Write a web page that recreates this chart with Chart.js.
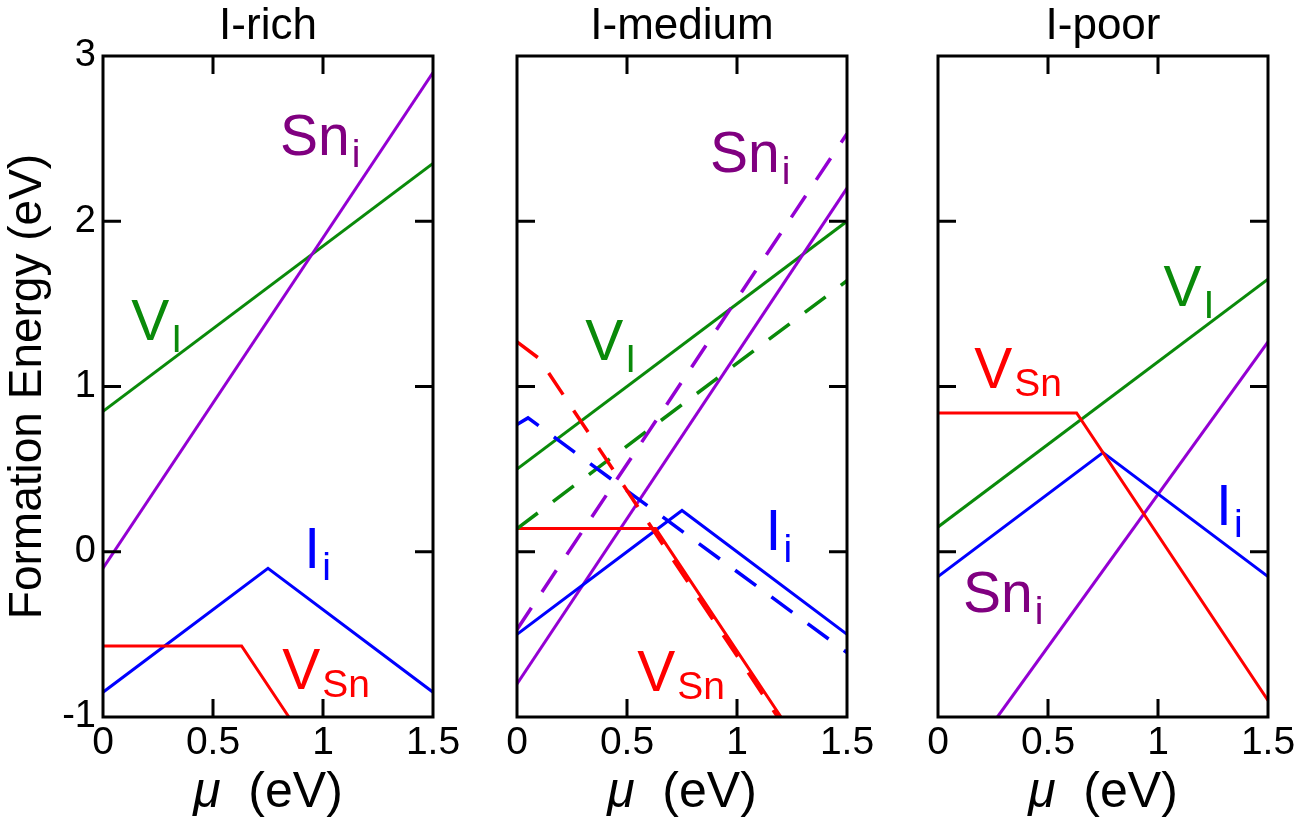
<!DOCTYPE html>
<html><head><meta charset="utf-8">
<script src="https://cdn.jsdelivr.net/npm/chart.js@4.4.1/dist/chart.umd.min.js"></script>
<style>
html,body{margin:0;padding:0;background:#fff;}
#wrap{position:relative;width:1311px;height:820px;overflow:hidden;background:#fff;}
canvas{position:absolute;top:0;}
</style></head><body>
<div id="wrap">
<canvas id="c1" width="480" height="820" style="left:0px"></canvas>
<canvas id="c2" width="410" height="820" style="left:480px"></canvas>
<canvas id="c3" width="421" height="820" style="left:890px"></canvas>
</div>
<script>
const FONT = '"Liberation Sans", Arial, Helvetica, sans-serif';

// ---- data ----
const panelTitles = ['I-rich', 'I-medium', 'I-poor'];
const xTickValues = [0, 0.5, 1, 1.5];
const xTickLabels = ['0', '0.5', '1', '1.5'];
const yTickValues = [-1, 0, 1, 2, 3];
const yTickLabels = ['-1', '0', '1', '2', '3'];
const xTitleSymbol = 'μ';
const xTitleUnit = '  (eV)';
const yTitle = 'Formation Energy (eV)';

// I-rich
const richVI  = [[0, 0.85], [1.5, 2.35]];
const richSni = [[0, -0.1], [1.5, 2.9]];
const richIi  = [[0, -0.85], [0.75, -0.1], [1.5, -0.85]];
const richVSn = [[0, -0.57], [0.63, -0.57], [0.845, -1.0]];
// I-medium (solid)
const medVI  = [[0, 0.5], [1.5, 2.0]];
const medSni = [[0, -0.8], [1.5, 2.2]];
const medIi  = [[0, -0.5], [0.75, 0.25], [1.5, -0.5]];
const medVSn = [[0, 0.14], [0.63, 0.14], [1.2, -1.0]];
// I-medium (dashed)
const medVIdash  = [[0, 0.14], [1.5, 1.64]];
const medSnidash = [[0, -0.47], [1.5, 2.53]];
const medIidash  = [[0, 0.77], [0.05, 0.81], [1.5, -0.61]];
const medVSndash = [[0, 1.27], [0.1, 1.17], [1.185, -1.0]];
// I-poor
const poorVI  = [[0, 0.15], [1.5, 1.65]];
const poorSni = [[0.27, -1.0], [1.5, 1.27]];
const poorIi  = [[0, -0.15], [0.75, 0.6], [1.5, -0.15]];
const poorVSn = [[0, 0.84], [0.63, 0.84], [1.5, -0.9]];

// ---- styles ----
const GREEN = '#0a8a0a', PURPLE = '#9400d3', PURPLE_TXT = '#800080', RED = '#ff0000', BLUE = '#0000ff';
const DASH = [26, 19];

const panelDefs = [
  { id: 'c1', title: panelTitles[0], yAxis: true, pad: { left: 0, right: 47 },
    series: [
      { d: richVSn, c: RED }, { d: richIi, c: BLUE }, { d: richSni, c: PURPLE }, { d: richVI, c: GREEN }
    ],
    labels: [
      { t: 'Sn', s: 'i', x: 0.805, y: 2.40, c: PURPLE_TXT, so: 12 },
      { t: 'V', s: 'I', x: 0.128, y: 1.28, c: GREEN, so: 12 },
      { t: 'I', s: 'i', x: 0.915, y: -0.10, c: BLUE, so: 12 },
      { t: 'V', s: 'Sn', x: 0.815, y: -0.83, c: RED, so: 8 }
    ] },
  { id: 'c2', title: panelTitles[1], yAxis: false, pad: { left: 37, right: 43 },
    series: [
      { d: medVSndash, c: RED, dash: true }, { d: medIidash, c: BLUE, dash: true },
      { d: medSnidash, c: PURPLE, dash: true }, { d: medVIdash, c: GREEN, dash: true },
      { d: medVSn, c: RED }, { d: medIi, c: BLUE }, { d: medSni, c: PURPLE }, { d: medVI, c: GREEN }
    ],
    labels: [
      { t: 'Sn', s: 'i', x: 0.877, y: 2.30, c: PURPLE_TXT, so: 12 },
      { t: 'V', s: 'I', x: 0.31, y: 1.16, c: GREEN, so: 12 },
      { t: 'I', s: 'i', x: 1.13, y: 0.01, c: BLUE, so: 12 },
      { t: 'V', s: 'Sn', x: 0.547, y: -0.84, c: RED, so: 8 }
    ] },
  { id: 'c3', title: panelTitles[2], yAxis: false, pad: { left: 48, right: 43 },
    series: [
      { d: poorVSn, c: RED }, { d: poorIi, c: BLUE }, { d: poorSni, c: PURPLE }, { d: poorVI, c: GREEN }
    ],
    labels: [
      { t: 'V', s: 'I', x: 1.025, y: 1.49, c: GREEN, so: 12 },
      { t: 'V', s: 'Sn', x: 0.165, y: 0.99, c: RED, so: 8 },
      { t: 'I', s: 'i', x: 1.264, y: 0.16, c: BLUE, so: 12 },
      { t: 'Sn', s: 'i', x: 0.114, y: -0.365, c: PURPLE_TXT, so: 12 }
    ] }
];

const decor = {
  id: 'decor',
  afterDatasetsDraw(chart, args, opts) {
    const { ctx, chartArea: a, scales: { x, y } } = chart;
    ctx.save();
    // curve labels
    for (const L of opts.labels) {
      const px = x.getPixelForValue(L.x), py = y.getPixelForValue(L.y);
      ctx.fillStyle = L.c;
      ctx.textAlign = 'left';
      ctx.textBaseline = 'alphabetic';
      ctx.font = '57px ' + FONT;
      ctx.fillText(L.t, px, py);
      const w = ctx.measureText(L.t).width;
      ctx.font = '39px ' + FONT;
      ctx.fillText(L.s, px + w + 2, py + L.so);
    }
    // frame
    ctx.strokeStyle = '#000';
    ctx.lineWidth = 3;
    ctx.strokeRect(a.left, a.top, a.right - a.left, a.bottom - a.top);
    // inward ticks
    ctx.beginPath();
    for (const v of xTickValues) {
      if (v <= x.min || v >= x.max) continue;
      const p = x.getPixelForValue(v);
      ctx.moveTo(p, a.bottom); ctx.lineTo(p, a.bottom - 18);
      ctx.moveTo(p, a.top); ctx.lineTo(p, a.top + 18);
    }
    for (const v of yTickValues) {
      if (v <= y.min || v >= y.max) continue;
      const p = y.getPixelForValue(v);
      ctx.moveTo(a.left, p); ctx.lineTo(a.left + 18, p);
      ctx.moveTo(a.right, p); ctx.lineTo(a.right - 18, p);
    }
    ctx.stroke();
    // panel title
    ctx.fillStyle = '#000';
    ctx.font = '44px ' + FONT;
    ctx.textAlign = 'center';
    ctx.textBaseline = 'middle';
    ctx.fillText(opts.title, (a.left + a.right) / 2, 27);
    // x axis title: italic mu + upright unit
    ctx.textAlign = 'left';
    ctx.textBaseline = 'alphabetic';
    ctx.font = 'italic 50px ' + FONT;
    const w1 = ctx.measureText(xTitleSymbol).width;
    ctx.font = '50px ' + FONT;
    const w2 = ctx.measureText(xTitleUnit).width;
    const sx = (a.left + a.right) / 2 - (w1 + w2) / 2;
    ctx.font = 'italic 50px ' + FONT;
    ctx.fillText(xTitleSymbol, sx, 807);
    ctx.font = '50px ' + FONT;
    ctx.fillText(xTitleUnit, sx + w1, 807);
    ctx.restore();
  }
};

for (const P of panelDefs) {
  const datasets = P.series.map(s => ({
    data: s.d.map(p => ({ x: p[0], y: p[1] })),
    borderColor: s.c,
    borderWidth: s.dash ? 3.5 : 3,
    borderDash: s.dash ? DASH : [],
    pointRadius: 0,
    showLine: true,
    tension: 0,
    fill: false
  }));
  new Chart(document.getElementById(P.id), {
    type: 'scatter',
    data: { datasets },
    plugins: [decor],
    options: {
      responsive: false,
      animation: false,
      layout: { padding: { left: P.pad.left, right: P.pad.right, top: 56, bottom: 0 } },
      plugins: {
        legend: { display: false },
        tooltip: { enabled: false },
        decor: { labels: P.labels, title: P.title }
      },
      scales: {
        x: {
          type: 'linear', min: 0, max: 1.5,
          afterBuildTicks: sc => { sc.ticks = xTickValues.map(v => ({ value: v })); },
          afterFit: sc => { sc.height = 103; },
          grid: { display: false, drawTicks: false },
          border: { display: false },
          ticks: {
            autoSkip: false, maxRotation: 0, padding: 3, color: '#000',
            font: { family: FONT, size: 39 },
            callback: (v, i) => xTickLabels[i]
          }
        },
        y: {
          type: 'linear', min: -1, max: 3, display: P.yAxis,
          afterBuildTicks: sc => { sc.ticks = yTickValues.map(v => ({ value: v })); },
          afterFit: sc => { sc.width = P.yAxis ? 103 : 0; },
          grid: { display: false, drawTicks: false },
          border: { display: false },
          ticks: {
            autoSkip: false, padding: 7, color: '#000',
            font: { family: FONT, size: 38 },
            callback: (v, i) => yTickLabels[i]
          },
          title: {
            display: P.yAxis, text: yTitle, color: '#000',
            font: { family: FONT, size: 46 },
            padding: { top: 1, bottom: 0 }
          }
        }
      }
    }
  });
}
</script>
</body></html>
